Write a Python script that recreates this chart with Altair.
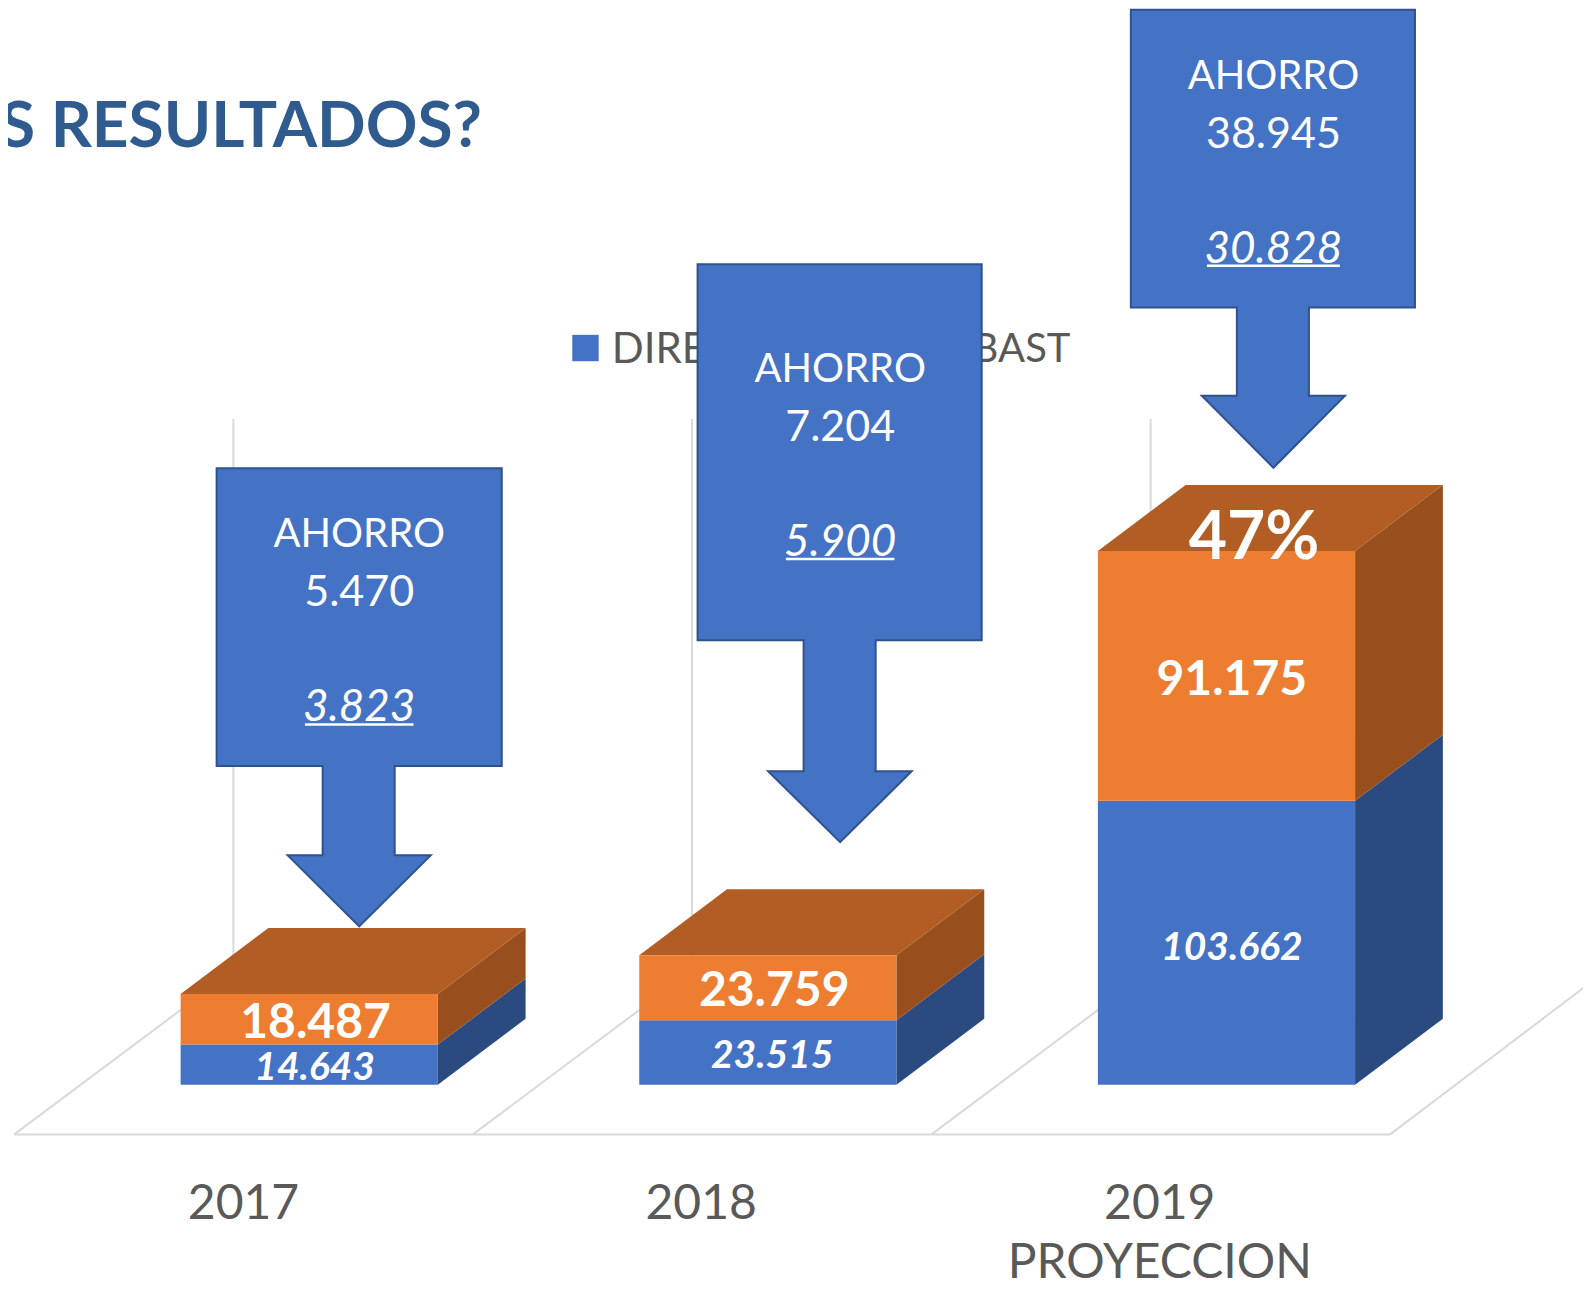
import altair as alt
import pandas as pd

# ---- data ----
years = ["2017", "2018", "2019"]
direct = [14643, 23515, 103662]
other = [18487, 23759, 91175]
direct_labels = ["14.643", "23.515", "103.662"]
other_labels = ["18.487", "23.759", "91.175"]
saving_main = ["5.470", "7.204", "38.945"]
saving_under = ["3.823", "5.900", "30.828"]

# ---- layout constants (reference pixels) ----
W, H = 1575, 1273
S = 1591 / 1568
BASE = 1069 * S
K = 2.70 * S / 1000
BAR_X0 = [178 * S, 630 * S, 1082 * S]
BAR_W = 253.5 * S
DX, DY = 86.5 * S, 65 * S
FONT = "Lato"
TEXT_SHIFT = 3
BLUE, ORANGE = "#4472C4", "#ED7D31"
BLUE_SIDE, ORANGE_SIDE, ORANGE_TOP = "#2B4A80", "#984F1D", "#B25D23"
OUT = "#2F528F"
GREY = "#D9D9D9"
TXT = "#595959"
TITLE = "#2F5B8E"


def Y(p):
    return (BASE - p) / K


xs = alt.Scale(domain=[8, 8 + W], nice=False, zero=False)
ys = alt.Scale(domain=[Y(8 + H), Y(8)], nice=False, zero=False)
X = lambda f="x": alt.X(f, type="quantitative", scale=xs, axis=None)
YY = lambda f="y": alt.Y(f, type="quantitative", scale=ys, axis=None)
X2 = lambda f="x2": alt.X2(f)
Y2 = lambda f="y2": alt.Y2(f)

# grid
grid = []
for i, gx in enumerate([230, 682, 1134]):
    back = 1118 - (gx - (14 + 452 * i)) * 65 / 87
    grid += [dict(g=f"v{i}", x=gx * S, y=Y(413 * S), o=0), dict(g=f"v{i}", x=gx * S, y=Y(back * S), o=1)]
    grid += [dict(g=f"f{i}", x=(14 + 452 * i) * S, y=Y(1118 * S), o=0), dict(g=f"f{i}", x=gx * S, y=Y(back * S), o=1)]
grid += [dict(g="f3", x=1370 * S, y=Y(1118 * S), o=0), dict(g="f3", x=1568 * S, y=Y(968 * S), o=1)]
grid += [dict(g="b", x=14 * S, y=Y(1118 * S), o=0), dict(g="b", x=1370 * S, y=Y(1118 * S), o=1)]
grid_layer = alt.Chart(pd.DataFrame(grid)).mark_line(color=GREY, strokeWidth=2).encode(
    x=X(), y=YY(), detail="g:N", order="o:Q")

# bars
front, sides, tops = [], [], []
d = DY / K
for i, yr in enumerate(years):
    x0, x1 = BAR_X0[i], BAR_X0[i] + BAR_W
    lo = 0
    for name, val, col, scol in [("d", direct[i], BLUE, BLUE_SIDE), ("o", other[i], ORANGE, ORANGE_SIDE)]:
        hi = lo + val
        front.append(dict(x=x0, x2=x1, y=lo, y2=hi, c=col))
        gid = f"{yr}{name}"
        sides.append(dict(g=gid, x=x1, y=lo, y2=hi, c=scol))
        sides.append(dict(g=gid, x=x1 + DX, y=lo + d, y2=hi + d, c=scol))
        lo = hi
    tops.append(dict(g=yr, y=lo, x=x0, x2=x1))
    tops.append(dict(g=yr, y=lo + d, x=x0 + DX, x2=x1 + DX))

side_layer = alt.Chart(pd.DataFrame(sides)).mark_area(orient="vertical").encode(
    x=X(), y=YY(), y2=Y2(), detail="g:N", fill=alt.Fill("c:N", scale=None))
top_layer = alt.Chart(pd.DataFrame(tops)).mark_area(orient="horizontal", fill=ORANGE_TOP).encode(
    y=YY(), x=X(), x2=X2(), detail="g:N")
front_layer = alt.Chart(pd.DataFrame(front)).mark_rect().encode(
    x=X(), x2=X2(), y=YY(), y2=Y2(), fill=alt.Fill("c:N", scale=None))

# callouts: (box left, box right, box top, box bottom, shaft bottom, tip)
calls = [
    (213.5, 494.5, 461.5, 755, 843, 913, 318, 389, 283.5, 424.5, 354),
    (687.5, 967.5, 260.5, 631, 760, 830, 792, 863, 757, 898.5, 828),
    (1114.5, 1394.5, 9.5, 303, 390, 461, 1219, 1290, 1184.5, 1325.5, 1255),
]
poly = []
for i, (bl, br, bt, bb, sb, tip, sl, sr, hl, hr, c) in enumerate(calls):
    for p, a, b in [(bt, bl, br), (bb, bl, br), (bb, sl, sr), (sb, sl, sr), (sb, hl, hr), (tip, c, c)]:
        poly.append(dict(g=i, y=Y(p * S), x=a * S, x2=b * S))
call_layer = alt.Chart(pd.DataFrame(poly)).mark_area(
    orient="horizontal", fill=BLUE, stroke=OUT, strokeWidth=2).encode(
    y=YY(), x=X(), x2=X2(), detail="g:N")


def text_layer(rows, **kw):
    df = pd.DataFrame([dict(x=a * S, y=Y((b + TEXT_SHIFT) * S), t=t) for a, b, t in rows])
    return alt.Chart(df).mark_text(font=FONT, baseline="middle", **kw).encode(x=X(), y=YY(), text="t:N")


call_offsets = [(524, 581, 695), (362, 419, 532), (73, 130, 243)]
call_x = [c[-1] for c in calls]
heads = text_layer([(call_x[i], call_offsets[i][0], "AHORRO") for i in range(3)], fontSize=40, color="white")
mains = text_layer([(call_x[i], call_offsets[i][1], saving_main[i]) for i in range(3)], fontSize=43, color="white")
unders = text_layer([(call_x[i], call_offsets[i][2], saving_under[i]) for i in range(3)],
                    fontSize=44, fontStyle="italic", color="white")
ul = pd.DataFrame([dict(x=(call_x[i] - 53.5 - (12 if i == 2 else 0)) * S, x2=(call_x[i] + 53.5 + (12 if i == 2 else 0)) * S,
                        y=Y((call_offsets[i][2] + 19) * S))
                   for i in range(3)])
ul_layer = alt.Chart(ul).mark_rule(color="white", strokeWidth=2.5).encode(x=X(), x2=X2(), y=YY())

d_lab = text_layer([(310, 1050, direct_labels[0]), (761, 1038, direct_labels[1]), (1214, 931, direct_labels[2])],
                   fontSize=39, fontStyle="italic", fontWeight="bold", color="white")
o_lab = text_layer([(311, 1006, other_labels[0]), (763, 975, other_labels[1]), (1214, 668, other_labels[2])],
                   fontSize=48, fontWeight="bold", color="white")
pct = text_layer([(1236, 528, "47%")], fontSize=66, fontWeight="bold", color="white")

cats = text_layer([(240, 1185, "2017"), (691, 1185, "2018"), (1143, 1185, "2019"), (1143, 1243, "PROYECCION")],
                  fontSize=48, color=TXT)
title = alt.Chart(pd.DataFrame([dict(x=0, y=Y(126 * S), t="S RESULTADOS?")])).mark_text(
    font=FONT, baseline="middle", align="left", fontSize=64, fontWeight="bold", color=TITLE).encode(
    x=X(), y=YY(), text="t:N")

# legend
leg_sq = alt.Chart(pd.DataFrame([dict(x=564 * S, x2=590 * S, y=Y(356 * S), y2=Y(330 * S))])).mark_rect(fill=BLUE).encode(
    x=X(), x2=X2(), y=YY(), y2=Y2())
leg_l = alt.Chart(pd.DataFrame([dict(x=603 * S, y=Y(345 * S), t="DIRE")])).mark_text(
    font=FONT, baseline="middle", align="left", fontSize=42, color=TXT).encode(x=X(), y=YY(), text="t:N")
leg_r = alt.Chart(pd.DataFrame([dict(x=1055 * S, y=Y(345 * S), t="BAST")])).mark_text(
    font=FONT, baseline="middle", align="right", fontSize=40, color=TXT).encode(x=X(), y=YY(), text="t:N")

chart = alt.layer(
    grid_layer, title, leg_sq, leg_l, leg_r, side_layer, top_layer, front_layer, call_layer,
    heads, mains, unders, ul_layer, d_lab, o_lab, pct, cats,
).properties(width=W, height=H, padding=0, autosize=alt.AutoSizeParams(type="none")).configure_view(stroke=None)

chart.save("out.html", embed_options={"renderer": "svg", "actions": False})
